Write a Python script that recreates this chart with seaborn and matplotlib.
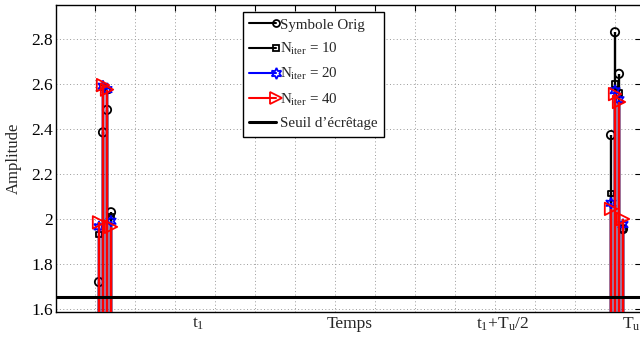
import numpy as np
import pandas as pd
import matplotlib
matplotlib.use("Agg")
import matplotlib.pyplot as plt
import seaborn as sns
from matplotlib.lines import Line2D
from matplotlib.legend_handler import HandlerLine2D
from matplotlib.transforms import blended_transform_factory

# ---- data ----
positions = [11, 12, 13, 14, 139, 140, 141, 142]
orig = [1.72, 2.385, 2.485, 2.03, 2.373, 2.83, 2.645, 1.955]
n10 = [1.93, 2.585, 2.57, 2.01, 2.115, 2.60, 2.56, 1.955]
n20 = [1.965, 2.59, 2.575, 1.99, 2.07, 2.57, 2.53, 1.975]
n40 = [1.985, 2.595, 2.575, 1.965, 2.045, 2.555, 2.52, 2.0]
threshold = 1.653
series_labels = ["Symbole Orig", r"N$_\mathrm{iter}$ = 10", r"N$_\mathrm{iter}$ = 20",
                 r"N$_\mathrm{iter}$ = 40", "Seuil d\u2019\u00e9cr\u00eatage"]
yticks = [1.6, 1.8, 2.0, 2.2, 2.4, 2.6, 2.8]
ytick_labels = ["1.6", "1.8", "2", "2.2", "2.4", "2.6", "2.8"]
xtick_pos = list(range(10, 150, 10))
xlabel_texts = [r"$\mathrm{t}_1$", "Temps", r"$\mathrm{t}_1\mathrm{+T}_\mathrm{u}/2$", r"$\mathrm{T}_\mathrm{u}$"]
xlabel_pos = [35.75, 73.75, 112.0, 146.3]

sns.set_style("white")
plt.rcParams["font.family"] = ["Liberation Serif", "DejaVu Serif"]
plt.rcParams["mathtext.fontset"] = "custom"
plt.rcParams["mathtext.rm"] = "Liberation Serif"
plt.rcParams["mathtext.it"] = "Liberation Serif:italic"

fig = plt.figure(figsize=(6.4, 3.38), dpi=100)
ax = fig.add_axes([56 / 640, 26 / 338, 585 / 640, 307 / 338])

styles = [
    dict(data=orig, color="black", marker="o", s=36),
    dict(data=n10, color="black", marker="s", s=14),
    dict(data=n20, color="blue", marker=(6, 1, 0), s=60),
    dict(data=n40, color="red", marker=">", s=80),
]

z = 3
for st in styles:
    df = pd.DataFrame({"x": positions, "y": st["data"]})
    ax.vlines(df["x"], 0, df["y"], colors=st["color"], linewidth=1.7, zorder=z)
    sns.scatterplot(data=df, x="x", y="y", marker=st["marker"], s=st["s"],
                    facecolors="none", edgecolors=st["color"], linewidth=1.3,
                    ax=ax, zorder=z + 0.5, legend=False)
    z += 1

ax.axhline(threshold, color="black", linewidth=2.2, zorder=z)

ax.set_xlim(0.25, 146.5)
ax.set_ylim(1.5867, 2.951)
ax.set_xticks(xtick_pos)
ax.set_xticklabels([])
ax.set_yticks(yticks)
ax.set_yticklabels(ytick_labels)
ax.set_xlabel("")
ax.set_ylabel("Amplitude", fontsize=12)
ax.yaxis.set_label_coords(-0.058, 0.5)
ax.tick_params(axis="both", which="both", direction="in", length=4, width=0.8,
               top=True, right=True, labelsize=12.5, pad=2, colors="black")
ax.grid(True, linestyle=(0, (1, 2.5)), linewidth=0.7, color="#9a9a9a")
for sp in ax.spines.values():
    sp.set_color("black")
    sp.set_linewidth(1.0)

trans = blended_transform_factory(ax.transData, ax.transAxes)
for i, (txt, xp) in enumerate(zip(xlabel_texts, xlabel_pos)):
    ha = "right" if i == len(xlabel_texts) - 1 else "center"
    ax.text(xp, -0.012, txt, transform=trans, ha=ha, va="top", fontsize=12.5, clip_on=False)


class EndMarkerHandler(HandlerLine2D):
    def create_artists(self, *args, **kwargs):
        arts = super().create_artists(*args, **kwargs)
        for a in arts:
            if a.get_marker() not in (None, "None", "", " "):
                n = len(a.get_xdata())
                a.set_markevery([n - 1])
        return arts


handles = [
    Line2D([], [], color="black", marker="o", ms=5, mfc="none", mew=1.3, lw=1.5),
    Line2D([], [], color="black", marker="s", ms=4, mfc="none", mew=1.3, lw=1.5),
    Line2D([], [], color="blue", marker=(6, 1, 0), ms=8, mfc="none", mew=1.3, lw=1.5),
    Line2D([], [], color="red", marker=">", ms=9, mfc="none", mew=1.3, lw=1.5),
    Line2D([], [], color="black", lw=2.2),
]
leg = ax.legend(handles, series_labels, loc="upper left",
                bbox_to_anchor=((243 - 56) / 585, (312 - 12) / 307),
                borderaxespad=0.0,
                fontsize=10.8, frameon=True, fancybox=False, framealpha=1,
                edgecolor="black", handlelength=1.8, handletextpad=0.3,
                labelspacing=0.62, borderpad=0.4, numpoints=1,
                handler_map={Line2D: EndMarkerHandler(numpoints=1)})
leg.get_frame().set_linewidth(1.0)
leg.set_zorder(20)

fig.savefig("out.png", dpi=100)
